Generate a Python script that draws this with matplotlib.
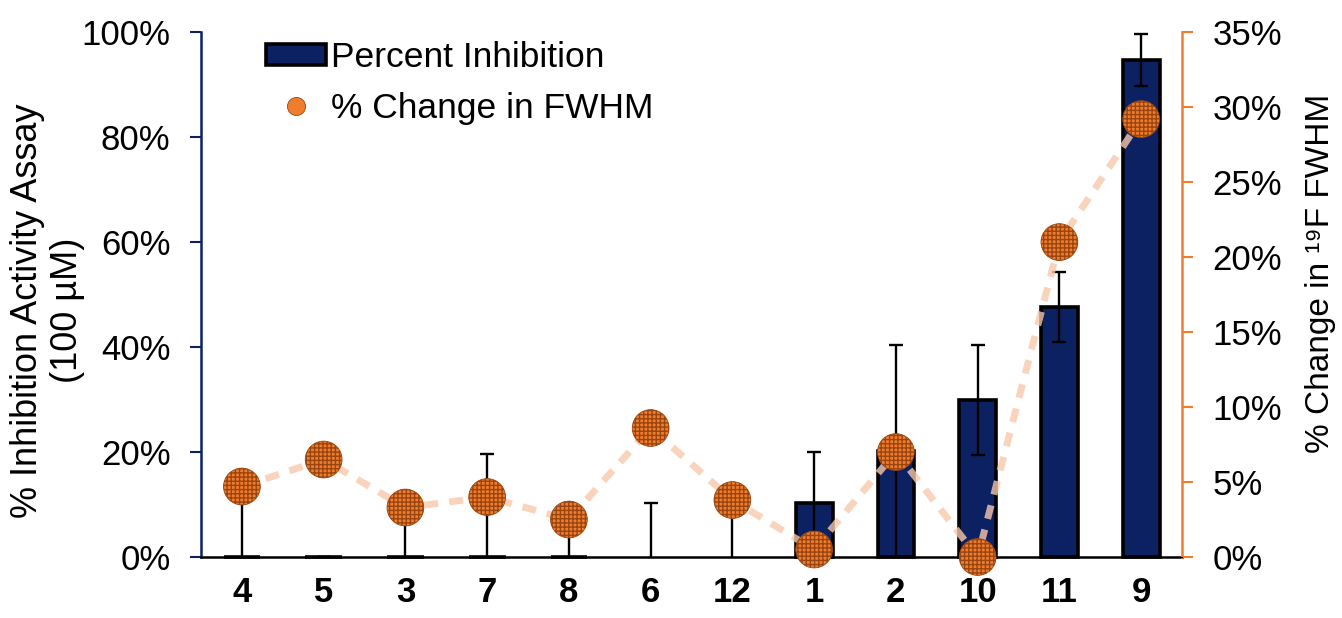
import numpy as np
import matplotlib
matplotlib.use('Agg')
import matplotlib.pyplot as plt
from matplotlib.lines import Line2D
from matplotlib.patches import Patch

plt.rcParams['font.family'] = ['Liberation Sans', 'DejaVu Sans']

compounds = ['4', '5', '3', '7', '8', '6', '12', '1', '2', '10', '11', '9']
# 6 and 12 have no bar drawn, only the error whisker
inhibition = [0, 0, 0, 0, 0, np.nan, np.nan, 10.3, 20.2, 29.9, 47.6, 94.7]
inhibition_err = [12, 0, 8, 19.6, 5, 10.3, 8, 9.8, 20.2, 10.4, 6.7, 5.0]
fwhm_change = [4.7, 6.5, 3.3, 4.0, 2.5, 8.6, 3.8, 0.5, 7.0, 0.0, 21.0, 29.2]

navy = '#0b2162'
orange = '#ef7d2e'

fig = plt.figure(figsize=(13.42, 6.18), dpi=100)
ax = fig.add_axes([0.1498, 0.0987, 0.731, 0.8493])
x = np.arange(len(compounds))

ax.bar(x, inhibition, width=0.45, color=navy, edgecolor='black', linewidth=2.6, zorder=2, clip_on=False)
ax.errorbar(x, np.nan_to_num(inhibition), yerr=inhibition_err, fmt='none', ecolor='black',
            elinewidth=1.7, capsize=5, capthick=1.7, zorder=3)
ax.set_xlim(-0.5, len(compounds) - 0.5)
ax.set_ylim(0, 100)
ax.set_yticks(np.arange(0, 101, 20))
ax.set_yticklabels([f'{v}%' for v in range(0, 101, 20)])
ax.set_xticks(x)
ax.set_xticklabels(compounds, fontweight='bold')
ax.tick_params(axis='x', length=0, pad=14, labelsize=25)
ax.tick_params(axis='y', length=8, width=1.5, color=navy, labelsize=25, pad=14)
ax.spines['top'].set_visible(False)
ax.spines['right'].set_visible(False)
ax.spines['left'].set_color(navy)
ax.spines['left'].set_linewidth(1.8)
ax.spines['bottom'].set_linewidth(1.8)
ax.set_ylabel('% Inhibition Activity Assay\n(100 µM)', fontsize=26, linespacing=1.2)
ax.yaxis.set_label_coords(-0.118, 0.47)

ax2 = ax.twinx()
ax2.plot(x, fwhm_change, linestyle=(0, (2, 1.6)), color='#f8c9ac', linewidth=5, alpha=0.8, zorder=1)
ax2.scatter(x, fwhm_change, s=700, color=orange, edgecolor='#9a4510', linewidth=0.6,
            hatch='++++', zorder=4, clip_on=False)
ax2.set_ylim(0, 35)
ax2.set_yticks(np.arange(0, 36, 5))
ax2.set_yticklabels([f'{v}%' for v in range(0, 36, 5)])
ax2.tick_params(axis='y', length=8, width=1.5, color=orange, labelsize=25, pad=14)
ax2.spines['right'].set_color(orange)
ax2.spines['right'].set_linewidth(1.8)
ax2.spines['left'].set_visible(False)
ax2.spines['top'].set_visible(False)
ax2.set_ylabel('% Change in ¹⁹F FWHM', fontsize=24)
ax2.yaxis.set_label_coords(1.125, 0.54)

handles = [
    Patch(facecolor=navy, edgecolor='black', linewidth=2.6),
    Line2D([], [], linestyle='none', marker='o', markersize=13, markerfacecolor=orange,
           markeredgecolor='#9a4510', markeredgewidth=0.6),
]
ax2.legend(handles, ['Percent Inhibition', '% Change in FWHM'], loc='upper left',
           bbox_to_anchor=(0.066, 0.983), frameon=False, fontsize=25.5, borderpad=0,
           borderaxespad=0, handlelength=1.7, handleheight=0.55, handletextpad=0.15,
           labelspacing=0.5)

fig.savefig('out.png', dpi=100)
